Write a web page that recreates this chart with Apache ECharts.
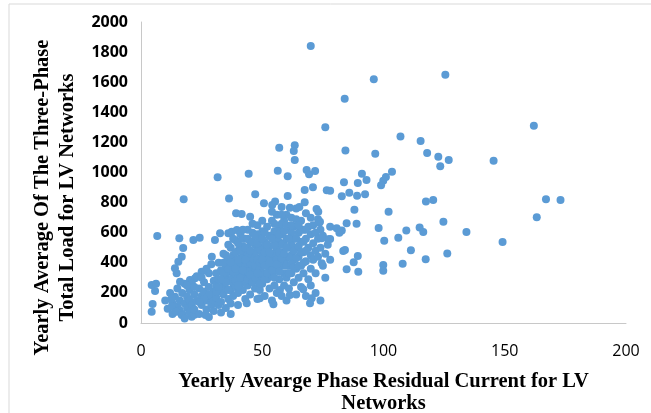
<!DOCTYPE html>
<html>
<head>
<meta charset="utf-8">
<script src="https://cdn.jsdelivr.net/npm/echarts@6/dist/echarts.min.js"></script>
<style>
  html, body { margin: 0; padding: 0; background: #fff; }
  #chart { width: 651px; height: 413px; }
</style>
</head>
<body>
<div id="chart"></div>
<script>
// axis ticks
const xTicks = [0, 50, 100, 150, 200];
const yTicks = [0, 200, 400, 600, 800, 1000, 1200, 1400, 1600, 1800, 2000];

// sparse points outside the main cloud [residual current, total load]
const outerPoints = [
  [70, 1840], [96, 1620], [84, 1490], [125.5, 1650], [76, 1300], [162, 1310],
  [57, 1165], [63.4, 1181], [63, 1143], [63.4, 1083], [84.3, 1147], [96.6, 1125],
  [107, 1240], [115.3, 1209], [118, 1130], [122.6, 1105], [123.4, 1041], [126.9, 1083],
  [145.4, 1078], [103.5, 1005], [31.6, 968], [44.4, 992], [56.4, 1012], [60.5, 975],
  [68.3, 1017], [69.3, 988], [71.8, 1010], [91.1, 992], [93, 950], [101, 970],
  [99.9, 946], [99, 915], [83.7, 935], [89.4, 930], [17.6, 822], [36.3, 828],
  [47.1, 855], [50.7, 795], [55.3, 808], [54.1, 784], [60.5, 844], [67.5, 884],
  [70.9, 902], [76.6, 882], [67.5, 802], [82.8, 842], [85.9, 866], [89.1, 846],
  [92.4, 855], [78, 879], [88, 753], [102.1, 740], [117.5, 808], [120.5, 817],
  [167, 823], [173, 817], [163.2, 702], [124.7, 673], [109.4, 614], [106.1, 567],
  [114.9, 635], [116.4, 605], [134.2, 605], [111.3, 483], [107.9, 394], [117.4, 423],
  [126.3, 461], [149.1, 538], [80.7, 629], [82.8, 614], [81.8, 600], [84.8, 662],
  [88.9, 660], [78, 558], [98, 631], [100.3, 547], [83.4, 478], [84.1, 485],
  [89.4, 445], [87.7, 403], [84.8, 357], [89.6, 341], [99.9, 385], [99.9, 348],
  [6.7, 578], [15.8, 563], [21.6, 551], [24.2, 567], [17.4, 498], [16.8, 440],
  [15.4, 407], [14, 363], [14.7, 330], [4.4, 252], [6.2, 260], [5.8, 212],
  [4.8, 126], [4.4, 75], [26.6, 53], [73.8, 673], [77.2, 556], [74.5, 397],
  [70.4, 164], [69.7, 131], [66.9, 224], [54.6, 124], [43.6, 131], [73.1, 740],
  [73.5, 666], [74.5, 563], [39.2, 729], [41.5, 724], [45, 706], [58, 770],
  [61.4, 765], [65.3, 770], [72.4, 758]
];

// main cloud of networks
const cloudPoints = [
  [10, 150], [11, 95], [12, 200], [13, 130], [13, 60], [14, 175], [15, 110], [15, 230],
  [16, 150], [16, 85], [17, 200], [17, 60], [18, 130], [18, 260], [19, 175], [19, 100],
  [20, 220], [20, 150], [20, 70], [12.7, 164], [12.7, 108], [14.7, 75], [16.8, 53],
  [20.9, 42], [16.1, 274], [20.2, 286], [22.3, 297], [25, 341], [29.2, 440], [30.5, 551],
  [32.6, 596], [36, 596], [37.4, 607], [39.5, 618], [18, 30], [22, 55], [28, 40],
  [33, 70], [37, 60], [49, 164], [61.4, 186], [57.3, 219],
  [21, 120], [21, 260], [22, 190], [22, 90], [23, 150], [23, 310], [24, 230], [24, 60],
  [25, 180], [25, 120], [26, 270], [26, 210], [27, 150], [27, 90], [28, 330], [28, 240],
  [29, 180], [29, 120], [29, 390], [30, 280], [30, 210], [30, 150], [30, 80],
  [31, 330], [31, 250], [31, 170], [32, 120], [32, 400], [32, 290], [33, 210], [33, 350],
  [33, 140], [34, 460], [34, 260], [34, 190], [35, 310], [35, 380], [35, 100], [35, 230],
  [36, 420], [36, 160], [36, 280], [37, 500], [37, 340], [37, 220], [37, 130], [38, 390],
  [38, 260], [38, 450], [38, 180], [39, 320], [39, 550], [39, 240], [39, 410], [40, 360],
  [40, 200], [40, 480], [40, 290], [40, 120],
  [41, 430], [41, 260], [41, 340], [41, 590], [42, 510], [42, 220], [42, 380], [42, 300],
  [43, 460], [43, 160], [43, 560], [43, 330], [44, 400], [44, 250], [44, 620], [44, 500],
  [45, 350], [45, 190], [45, 440], [45, 280], [45, 540], [46, 470], [46, 310], [46, 390],
  [46, 600], [47, 230], [47, 520], [47, 420], [47, 340], [48, 650], [48, 280], [48, 480],
  [48, 370], [48, 160], [49, 560], [49, 430], [49, 300], [49, 220], [50, 500], [50, 380],
  [50, 610], [50, 260], [50, 450],
  [51, 330], [51, 540], [51, 180], [52, 420], [52, 640], [52, 290], [52, 470], [53, 360],
  [53, 580], [53, 230], [53, 510], [54, 400], [54, 680], [54, 310], [54, 150], [55, 450],
  [55, 560], [55, 250], [55, 610], [56, 350], [56, 490], [56, 200], [56, 720], [57, 420],
  [57, 540], [57, 290], [57, 640], [58, 380], [58, 470], [58, 180], [58, 590], [59, 330],
  [59, 520], [59, 680], [59, 250], [60, 430], [60, 560], [60, 300], [60, 720], [60, 150],
  [61, 500], [61, 380], [61, 620], [61, 230], [62, 450], [62, 700], [62, 330], [63, 560],
  [63, 270], [63, 420], [63, 640], [64, 500], [64, 360], [64, 760], [64, 190], [65, 600],
  [65, 440], [65, 300], [66, 540], [66, 680], [66, 380], [66, 240], [67, 470], [67, 620],
  [67, 330], [68, 560], [68, 730], [68, 410], [68, 180], [69, 500], [69, 640], [69, 290],
  [70, 450], [70, 590], [70, 360], [70, 700], [70, 250],
  [71, 530], [71, 420], [71, 650], [72, 480], [72, 600], [72, 330], [73, 560], [73, 440],
  [73, 690], [74, 620], [74, 500], [75, 380], [75, 580], [76, 460], [77, 520], [78, 420],
  [78, 640], [76, 300], [72, 200], [74, 150],
  [34, 330], [36, 360], [38, 310], [39, 470], [41, 400], [42, 440], [43, 380], [44, 340],
  [45, 400], [46, 430], [47, 380], [47, 470], [48, 420], [49, 360], [49, 490], [50, 330],
  [51, 420], [51, 470], [52, 380], [53, 430], [54, 460], [55, 390], [56, 420], [56, 560],
  [57, 470], [58, 520], [59, 410], [60, 380], [61, 440], [62, 520], [63, 480], [64, 430],
  [65, 510], [66, 470], [43, 280], [40, 420], [37, 280], [35, 270], [33, 290], [31, 210],
  [28, 190], [26, 160], [24, 140], [22, 240], [19, 250], [27, 360], [25, 300], [36, 520],
  [38, 560], [42, 620], [46, 660], [50, 680], [54, 740], [58, 660], [62, 600], [66, 620],
  [55, 520], [53, 320], [48, 590], [44, 460],
  [32, 240], [34, 400], [35, 450], [36, 220], [37, 400], [38, 340], [39, 280], [39, 360],
  [40, 250], [40, 530], [41, 300], [41, 480], [42, 350], [42, 560], [43, 420], [43, 500],
  [44, 290], [44, 560], [45, 320], [45, 480], [46, 270], [46, 540], [47, 300], [47, 580],
  [48, 330], [48, 530], [49, 260], [49, 400], [50, 420], [50, 560], [51, 290], [51, 380],
  [51, 600], [52, 330], [52, 520], [53, 400], [53, 470], [54, 350], [54, 560], [55, 300],
  [55, 660], [56, 390], [56, 610], [57, 340], [57, 590], [58, 430], [58, 720], [59, 460],
  [59, 610], [60, 500], [60, 650], [61, 330], [61, 560], [62, 390], [62, 650], [63, 370],
  [64, 560], [64, 690], [65, 380], [65, 650], [67, 400], [67, 540], [68, 480], [68, 620]
];

const chart = echarts.init(document.getElementById("chart"));
const option = {
  backgroundColor: "#fff",
  animation: false,
  graphic: [
    {
      type: "rect",
      shape: { x: 9, y: 4, width: 700, height: 500 },
      style: { fill: "none", stroke: "#d9d9d9", lineWidth: 1 },
      silent: true,
    },
  ],
  grid: {
    left: 141,
    right: 25,
    top: 22,
    bottom: 90,
    outerBoundsMode: "none",
    containLabel: false,
  },
  xAxis: {
    type: "value",
    min: xTicks[0],
    max: xTicks[xTicks.length - 1],
    interval: 50,
    name: "Yearly Avearge Phase Residual Current for LV\nNetworks",
    nameLocation: "middle",
    nameGap: 48,
    nameTextStyle: {
      fontFamily: "Liberation Serif",
      fontWeight: "bold",
      fontSize: 20.5,
      color: "#000",
      lineHeight: 22,
      verticalAlign: "top",
    },
    axisLine: { show: true, lineStyle: { color: "#c8c8c8", width: 1 } },
    axisTick: { show: false },
    splitLine: { show: false },
    axisLabel: {
      margin: 20,
      fontFamily: "Open Sans",
      fontSize: 16,
      color: "#000",
      formatter: (v) => String(v),
    },
  },
  yAxis: {
    type: "value",
    min: yTicks[0],
    max: yTicks[yTicks.length - 1],
    interval: 200,
    name: "Yearly Average Of The Three-Phase\nTotal Load for LV Networks",
    nameLocation: "middle",
    nameRotate: 90,
    nameGap: 53,
    nameTextStyle: {
      fontFamily: "Liberation Serif",
      fontWeight: "bold",
      fontSize: 20.5,
      color: "#000",
      lineHeight: 25,
      padding: [0, 50, 0, 0],
    },
    axisLine: { show: true, lineStyle: { color: "#c8c8c8", width: 1 } },
    axisTick: { show: false },
    splitLine: { show: false },
    axisLabel: {
      margin: 13,
      fontFamily: "Open Sans",
      fontWeight: "bold",
      fontSize: 16,
      color: "#000",
      formatter: (v) => String(v),
    },
  },
  series: [
    {
      type: "scatter",
      data: cloudPoints.concat(outerPoints),
      symbol: "circle",
      symbolSize: 8,
      itemStyle: { color: "#5b9bd5", opacity: 1 },
    },
  ],
};
option && chart.setOption(option);
</script>
</body>
</html>
